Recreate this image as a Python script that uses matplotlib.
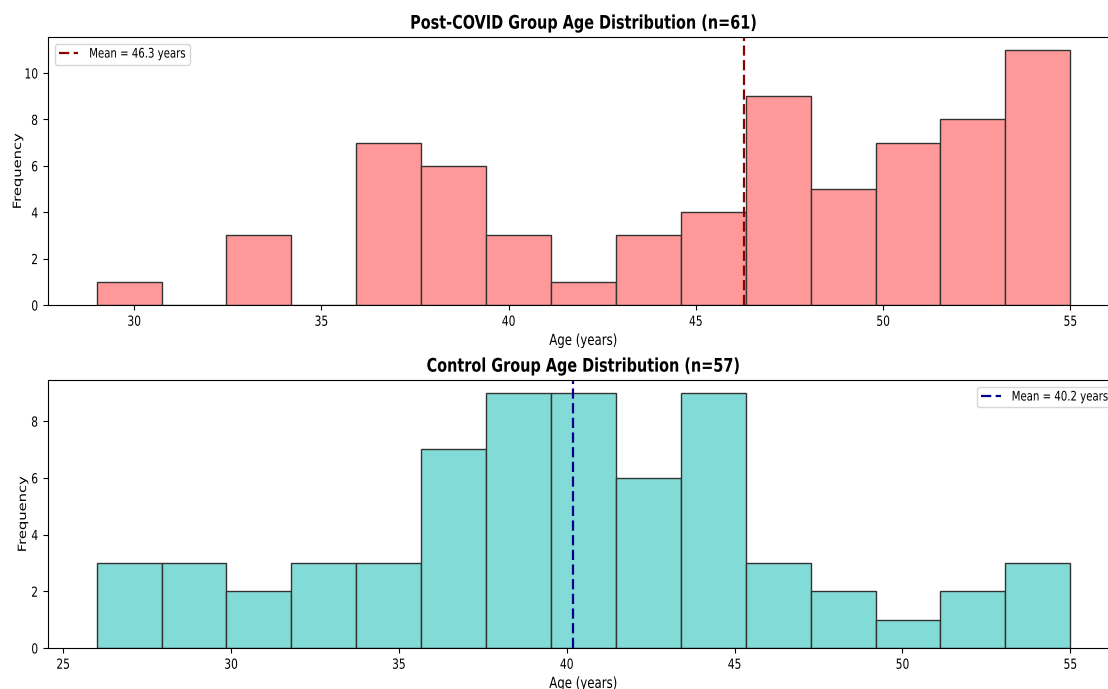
import numpy as np
import matplotlib
matplotlib.use('Agg')
import matplotlib.pyplot as plt
from matplotlib.patheffects import AbstractPathEffect
from matplotlib.transforms import Affine2D, Bbox
from matplotlib.text import Text

# Frecuencias por intervalo de edad (15 intervalos por grupo)
post_covid_counts = [1, 0, 3, 0, 7, 6, 3, 1, 3, 4, 9, 5, 7, 8, 11]
post_covid_range = (29, 55)
post_covid_mean = 46.3
post_covid_n = 61

control_counts = [3, 3, 2, 3, 3, 7, 9, 9, 6, 9, 3, 2, 1, 2, 3]
control_range = (26, 55)
control_mean = 40.2
control_n = 57

# Factor de compresion horizontal del texto
ESTRECHO = 0.77


class Estrechar(AbstractPathEffect):
    # Comprime el trazo del texto en horizontal alrededor de un borde o del centro
    def __init__(self, sx, ancla='center'):
        super().__init__()
        self.sx = sx
        self.ancla = ancla

    def draw_path(self, renderer, gc, tpath, affine, rgbFace=None):
        ext = tpath.get_extents(affine)
        x0 = {'left': ext.x0, 'right': ext.x1}.get(self.ancla, (ext.x0 + ext.x1) / 2)
        aff = affine + Affine2D().translate(-x0, 0).scale(self.sx, 1).translate(x0, 0)
        renderer.draw_path(gc, tpath, aff, rgbFace)


def ajustar_leyenda(leg, sx):
    # la caja de la leyenda sigue el ancho del texto comprimido
    for t in leg.get_texts():
        original = t._get_layout

        def layout(renderer, original=original):
            bbox, info, descent = original(renderer)
            return Bbox.from_bounds(bbox.x0, bbox.y0, bbox.width * sx, bbox.height), info, descent
        t._get_layout = layout


fig = plt.figure(figsize=(11.08, 6.89), dpi=100)
ax1 = fig.add_axes([0.0433, 0.5573, 0.9666, 0.389])
ax2 = fig.add_axes([0.0433, 0.0595, 0.9666, 0.389])


def dibujar_hist(ax, counts, rango, media, n, color, color_media, titulo, loc, xlab):
    edges = np.linspace(rango[0], rango[1], len(counts) + 1)
    centros = (edges[:-1] + edges[1:]) / 2
    ax.hist(centros, bins=edges, weights=counts, facecolor=color,
            edgecolor='#333333', linewidth=1)
    ax.axvline(media, color=color_media, linestyle='--', linewidth=1.6,
               dashes=(4.6, 2.0), label=f'Mean = {media} years')
    ax.set_title(f'{titulo} Group Age Distribution (n={n})',
                 fontsize=13.5, fontweight='bold')
    ax.set_xlabel('Age (years)', fontsize=11, labelpad=3)
    ax.set_ylabel('Frequency', fontsize=10.6)
    ax.yaxis.set_label_coords(xlab, 0.5)
    ax.tick_params(labelsize=10)
    leg = ax.legend(loc=loc, fontsize=9.5, handlelength=1.5, borderpad=0.3)
    ajustar_leyenda(leg, ESTRECHO)


dibujar_hist(ax1, post_covid_counts, post_covid_range, post_covid_mean, post_covid_n,
             '#ff9999', 'darkred', 'Post-COVID', 'upper left', -0.0231)
dibujar_hist(ax2, control_counts, control_range, control_mean, control_n,
             '#82dbd6', 'darkblue', 'Control', 'upper right', -0.0184)

# primero se dibuja para que existan todas las etiquetas de los ejes
fig.canvas.draw()
for t in fig.findobj(Text):
    ancla = 'right' if t in (ax1.yaxis.label, ax2.yaxis.label) else t.get_ha()
    t.set_path_effects([Estrechar(ESTRECHO, ancla)])

fig.savefig('out.png', dpi=100)
